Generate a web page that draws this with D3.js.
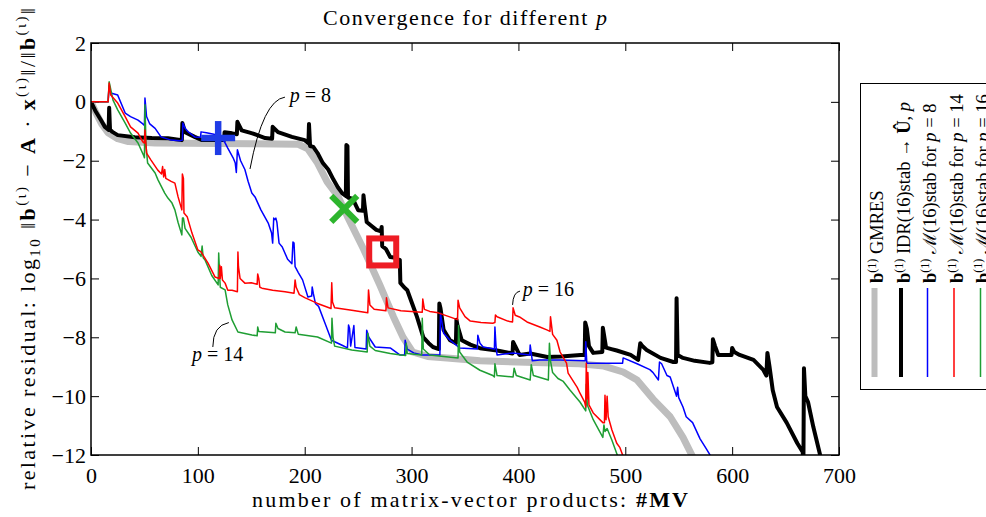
<!DOCTYPE html>
<meta charset="utf-8">
<style>
body { margin: 0; background: #fff; }
svg text { font-family: "Liberation Serif", "DejaVu Serif", serif; fill: #000; }
.axis path { display: none; }
.axis line { stroke: #000; stroke-width: 1; }
.curve { fill: none; stroke-linejoin: round; }
</style>
<svg width="986" height="517"></svg>
<script src="https://d3js.org/d3.v7.min.js"></script>
<script>

// GMRES (grey), IDR(16)stab (black), M(16)stab for p = 8 / 14 / 16
var gmres = [[0,0],[5,-0.4],[10,-0.75],[16,-1.05],[25,-1.25],[35,-1.35],[60,-1.4],[150,-1.42],[194,-1.44],[203,-1.6],[212,-2.08],[221,-2.72],[231,-3.2],[240,-3.9],[255,-5.0],[270,-6.2],[283,-7.3],[292,-8.0],[301,-8.5],[315,-8.65],[333,-8.7],[364,-8.8],[457,-8.9],[480,-8.98],[498,-9.18],[511,-9.45],[526,-10.1],[542,-10.7],[554,-11.4],[565,-12.2]];

var idr = [[0,0],[4,-0.3],[9,-0.6],[13,-0.85],[16.5,-0.95],[17,-0.2],[17.8,-0.95],[20,-1.02],[25,-1.13],[41,-1.2],[57,-1.23],[72,-1.24],[85,-1.3],[85.5,-0.72],[88,-1.03],[97,-1.19],[104,-1.3],[119,-1.3],[124.5,-1.3],[125,-1.03],[132,-1.07],[136.5,-1.1],[137,-0.68],[141,-0.97],[151,-1.07],[163,-1.23],[169.5,-1.25],[170,-0.85],[175,-1.03],[188,-1.19],[200,-1.3],[203.5,-1.4],[204,-0.75],[205,-1.5],[208,-1.53],[212,-1.74],[217,-2.08],[222,-2.3],[227,-2.65],[231,-2.9],[235,-3.1],[238.5,-3.2],[239,-1.47],[240,-1.5],[240.5,-3.25],[245,-3.3],[250,-3.68],[254.5,-3.7],[255,-3.17],[256,-3.5],[258,-4.08],[262,-4.2],[267,-4.35],[271.5,-4.4],[272,-4.25],[272.5,-4.9],[276,-5.0],[280,-5.27],[285,-5.3],[288.5,-5.4],[289,-5.37],[289.5,-6.15],[293,-6.3],[296,-6.4],[300,-6.8],[305,-7.3],[311,-8.0],[316,-8.2],[320,-8.33],[325.5,-8.4],[326,-6.85],[327,-7.0],[330,-7.75],[336,-8.1],[341.5,-8.2],[342,-7.4],[343,-7.6],[347,-8.1],[355,-8.25],[364,-8.37],[380,-8.45],[394.5,-8.55],[395,-8.16],[397,-8.3],[401,-8.6],[411,-8.55],[427,-8.67],[440,-8.65],[458,-8.6],[462,-8.6],[462.5,-7.5],[464,-7.7],[466,-8.3],[470,-8.53],[478.5,-8.5],[479,-7.68],[480,-7.9],[482,-8.35],[487,-8.4],[492,-8.45],[505,-8.6],[512,-8.77],[514,-8.2],[516,-8.3],[520,-8.43],[533,-8.7],[545,-8.84],[547.5,-8.84],[548,-6.67],[549,-8.6],[554,-8.7],[565,-8.8],[579,-8.87],[581.5,-8.85],[582,-8.07],[584,-8.3],[587,-8.6],[599.5,-8.6],[600,-8.36],[602,-8.5],[607,-8.6],[620,-8.77],[629,-9.1],[632,-9.3],[633,-8.53],[635,-9.0],[638,-9.8],[642,-10.37],[651,-10.9],[661,-11.6],[666,-11.9],[666.7,-12.2],[667.2,-9.05],[668.5,-10.0],[671,-10.2],[676,-11.05],[682,-11.95],[684,-12.3]];

var mp8 = [[0,0],[16,0],[17,0.55],[18.5,0.3],[25,0.23],[32,-0.38],[37,-0.5],[44,-0.62],[48.5,-0.75],[50,-0.8],[50.5,0.13],[52,-0.5],[55,-0.75],[60,-0.9],[65.5,-1.19],[75,-1.3],[83,-1.32],[85.5,-1.3],[86,-0.72],[88,-0.9],[91,-1.02],[97,-1.19],[102.5,-1.2],[103,-1.02],[108,-1.05],[115,-1.1],[120,-1.2],[125,-1.36],[128,-1.57],[133,-1.9],[135,-2.08],[136,-2.4],[137,-1.63],[140,-2.0],[144,-2.3],[147,-2.7],[150.5,-3.1],[153.5,-3.23],[159,-3.67],[166,-4.13],[169,-4.46],[170,-4.8],[171,-3.95],[172,-4.0],[173,-3.95],[174,-4.1],[176,-4.8],[179,-4.93],[184,-5.35],[188,-5.5],[189,-4.76],[190,-4.8],[191,-5.6],[194,-5.8],[198,-6.05],[203,-6.63],[206.5,-6.6],[207,-6.29],[208,-6.5],[210,-6.85],[213,-6.95],[219,-7.52],[225,-8.1],[235,-8.27],[240,-8.36],[241,-7.58],[242,-7.7],[243,-8.3],[246,-7.6],[247,-8.35],[257.5,-8.4],[258,-7.76],[260,-8.0],[266,-8.33],[280,-8.36],[289,-8.6],[293.5,-8.6],[294,-8.1],[296,-8.4],[302,-8.53],[310,-8.6],[320,-8.6],[326.5,-8.6],[327,-7.18],[328,-7.4],[330,-7.86],[336,-8.1],[345,-8.36],[361.5,-8.4],[362,-7.93],[364,-8.2],[367,-8.33],[377.5,-8.4],[378,-7.65],[379,-8.3],[380,-8.6],[395,-8.53],[410.5,-8.6],[411,-8.26],[413,-8.8],[420,-8.77],[439,-8.77],[462.5,-8.8],[463,-8.15],[464,-8.88],[485,-8.88],[497.5,-8.88],[498,-8.7],[511,-8.9],[523,-9.1],[526,-9.2],[531,-9.45],[532,-8.84],[534,-8.9],[539,-9.3],[542,-9.35],[548,-10.0],[549,-9.7],[550,-10.05],[554,-10.37],[557,-10.7],[563,-10.9],[570,-11.45],[576,-11.8],[581,-12.1]];

var mp14 = [[0,0],[16,0],[17,0.64],[18.5,0.23],[25,-0.04],[32,-0.5],[37,-0.85],[44,-1.06],[48.5,-1.36],[50,-1.4],[50.5,-0.96],[52,-1.74],[56,-1.97],[62.5,-2.32],[66,-2.45],[67,-2.2],[68,-2.55],[69,-2.3],[70,-2.6],[75,-2.7],[78.5,-2.76],[81.5,-3.23],[85,-3.67],[85.5,-2.45],[86.5,-2.6],[87,-3.78],[90,-3.9],[94.5,-4.46],[100,-5.03],[103,-5.1],[109.5,-5.48],[116,-5.95],[120,-6.0],[120.5,-5.55],[121,-6.0],[122,-5.6],[123,-6.05],[125.5,-6.16],[128,-6.4],[132,-6.4],[137,-6.45],[137.5,-5.1],[138,-5.6],[139.5,-6.0],[144,-6.16],[150,-6.15],[155.5,-6.2],[156,-5.85],[157,-6.0],[158,-6.3],[160,-6.33],[170,-6.4],[181.6,-6.45],[190,-6.5],[191,-6.05],[192,-6.3],[195,-6.55],[200,-6.65],[212,-6.85],[224.6,-7.02],[225.3,-6.15],[226,-6.8],[228,-7.0],[244,-7.08],[259,-7.17],[259.7,-6.39],[261,-6.9],[265,-7.05],[276,-7.1],[276.5,-6.66],[278,-7.0],[290,-7.1],[306,-7.14],[310,-7.15],[310.5,-6.7],[312,-7.05],[317,-7.12],[325,-7.17],[339,-7.35],[343,-7.4],[343.5,-6.74],[345,-7.0],[350,-7.3],[355,-7.45],[365,-7.5],[376,-7.52],[378,-7.5],[378.5,-7.24],[380,-7.3],[390,-7.45],[394.5,-7.48],[395,-7.0],[397,-7.25],[401,-7.31],[408,-7.48],[420,-7.65],[426.6,-7.75],[429.5,-7.8],[430,-7.3],[432,-7.9],[436,-8.1],[439,-8.5],[445,-8.88],[446.5,-9.22],[455,-9.7],[457.6,-9.9],[462,-10.2],[463,-10.37],[463.5,-8.88],[464.3,-10.1],[465,-9.2],[466,-10.3],[470,-10.57],[479,-10.9],[480.5,-10.9],[481,-9.97],[482,-10.8],[483,-10.0],[484,-10.7],[487.5,-11.15],[492,-11.6],[495,-11.75],[498,-12.05]];

var mp16 = [[0,0],[16,0],[17,0.68],[20.6,0.06],[25,-0.27],[32,-0.72],[37,-1.06],[44,-1.4],[49,-1.8],[50,-1.9],[50.5,-0.1],[51.5,-1.5],[53,-2.08],[60,-2.42],[62.7,-2.65],[69,-3.1],[72,-3.27],[75.8,-3.44],[78.5,-3.67],[81.5,-4.1],[84,-4.4],[85,-4.52],[85.6,-3.95],[86.5,-3.95],[88,-4.3],[93.6,-4.6],[100,-5.1],[103,-5.25],[104,-4.9],[105,-5.3],[106.7,-5.37],[113,-5.9],[119,-6.22],[119.5,-5.14],[120.5,-6.0],[121,-6.3],[125.5,-6.39],[128,-6.9],[132,-7.41],[137.5,-7.82],[150.6,-7.92],[155.5,-7.95],[156,-7.65],[157,-7.8],[163,-7.82],[172.5,-7.85],[173,-7.52],[175,-7.7],[181.6,-7.82],[191,-7.85],[192,-7.65],[194,-7.9],[212,-7.99],[225,-8.2],[225.5,-7.35],[226.5,-8.0],[228,-8.3],[244,-8.43],[258.5,-8.5],[259,-7.86],[261,-8.3],[266,-8.45],[280,-8.55],[290,-8.6],[294.5,-8.62],[295,-8.2],[296,-8.55],[309.5,-8.6],[310,-7.35],[311,-8.4],[317,-8.6],[330,-8.65],[343.5,-8.7],[344,-7.6],[345,-8.5],[352,-8.84],[364,-9.12],[376,-9.3],[377.5,-9.35],[378,-8.9],[380,-9.3],[395,-9.35],[396,-9.05],[398,-9.3],[411,-9.45],[412,-8.93],[414,-9.3],[428,-9.45],[429,-8.2],[430,-8.8],[432,-9.2],[437,-9.4],[442,-9.5],[448,-9.78],[457.6,-10.2],[463,-10.5],[463.5,-9.6],[464.5,-10.3],[470,-10.8],[479,-11.4],[480,-10.98],[481,-11.2],[483,-11.1],[487.5,-11.5],[493,-12.05]];

var xTicks = [0, 100, 200, 300, 400, 500, 600, 700];
var yTicks = [2, 0, -2, -4, -6, -8, -10, -12];

// big markers: blue +, green x, red square
var markers = [
  {shape: "plus", x: 119, y: -1.23, color: "#1f3ce6"},
  {shape: "cross", x: 237, y: -3.64, color: "#2db52d"},
  {shape: "square", x: 273, y: -5.1, color: "#ee1c24"}
];

// curved labels: text position, curve start, control and end (data units)
var notes = [
  {p: "8", tx: 186, ty: 0.0, from: [181.5, 0.16], ctrl: [161, 0.06], to: [148.8, -2.28]},
  {p: "16", tx: 404, ty: -6.6, from: [401.5, -6.43], ctrl: [395, -6.47], to: [394.5, -6.9]},
  {p: "14", tx: 94.5, ty: -8.8, from: [114, -8.33], ctrl: [114, -7.6], to: [129, -7.5]}
];

var svg = d3.select("svg");
var mLeft = 91, mRight = 839, mTop = 43, mBottom = 455;

var x = d3.scaleLinear().domain([0, 700]).range([mLeft, mRight]);
var y = d3.scaleLinear().domain([-12, 2]).range([mBottom, mTop]);

svg.append("clipPath").attr("id", "plotclip")
  .append("rect").attr("x", mLeft).attr("y", mTop)
  .attr("width", mRight - mLeft).attr("height", mBottom - mTop);

function richText(sel, parts) {
  parts.forEach(function(p) {
    if (typeof p === "string") p = {t: p};
    var t = sel.append("tspan").text(p.t);
    if (p.b) t.attr("font-weight", "bold");
    if (p.i) t.attr("font-style", "italic");
    if (p.dy) t.attr("dy", p.dy);
    if (p.fs) t.attr("font-size", p.fs);
  });
}

// axes, ticks pointing inward on all four sides
var fmt = d3.format("d");
svg.append("g").attr("class", "axis").attr("transform", "translate(0," + mBottom + ")")
  .call(d3.axisBottom(x).tickValues(xTicks).tickSize(-8).tickPadding(12).tickFormat(fmt));
svg.append("g").attr("class", "axis").attr("transform", "translate(" + mLeft + ",0)")
  .call(d3.axisLeft(y).tickValues(yTicks).tickSize(-8).tickPadding(5).tickFormat(fmt));
svg.append("g").attr("class", "axis").attr("transform", "translate(0," + mTop + ")")
  .call(d3.axisTop(x).tickValues(xTicks).tickSize(-8).tickFormat(""));
svg.append("g").attr("class", "axis").attr("transform", "translate(" + mRight + ",0)")
  .call(d3.axisRight(y).tickValues(yTicks).tickSize(-8).tickFormat(""));
svg.selectAll(".axis").attr("font-family", null).attr("font-size", null);
svg.selectAll(".axis text").style("font-size", "22px");

// curves
var line = d3.line().x(function(d) { return x(d[0]); }).y(function(d) { return y(d[1]); });
var plot = svg.append("g").attr("clip-path", "url(#plotclip)");
var series = [
  {data: gmres, color: "#bdbdbd", width: 7},
  {data: idr, color: "#000", width: 4},
  {data: mp8, color: "#0000ff", width: 1.5},
  {data: mp16, color: "#1f9e33", width: 1.5},
  {data: mp14, color: "#ff0000", width: 1.5}
];
plot.selectAll("path.curve").data(series).enter().append("path")
  .attr("class", "curve")
  .attr("d", function(d) { return line(d.data); })
  .attr("stroke", function(d) { return d.color; })
  .attr("stroke-width", function(d) { return d.width; });

// markers
markers.forEach(function(m) {
  var cx = x(m.x), cy = y(m.y);
  var g = plot.append("g").attr("stroke", m.color).attr("fill", "none");
  if (m.shape === "plus") {
    g.attr("stroke-width", 6.5);
    g.append("line").attr("x1", cx - 17).attr("x2", cx + 17).attr("y1", cy).attr("y2", cy);
    g.append("line").attr("x1", cx).attr("x2", cx).attr("y1", cy - 17).attr("y2", cy + 17);
  } else if (m.shape === "cross") {
    g.attr("stroke-width", 6);
    g.append("line").attr("x1", cx - 13).attr("x2", cx + 13).attr("y1", cy - 13).attr("y2", cy + 13);
    g.append("line").attr("x1", cx - 13).attr("x2", cx + 13).attr("y1", cy + 13).attr("y2", cy - 13);
  } else {
    g.attr("stroke-width", 6);
    g.append("rect").attr("x", cx - 13.5).attr("y", cy - 13.5).attr("width", 27).attr("height", 27);
  }
});

// annotations
notes.forEach(function(n) {
  var path = d3.path();
  path.moveTo(x(n.from[0]), y(n.from[1]));
  path.quadraticCurveTo(x(n.ctrl[0]), y(n.ctrl[1]), x(n.to[0]), y(n.to[1]));
  svg.append("path").attr("d", path.toString()).attr("fill", "none")
    .attr("stroke", "#000").attr("stroke-width", 1);
  var t = svg.append("text").attr("x", x(n.tx)).attr("y", y(n.ty)).style("font-size", "20px");
  richText(t, [{t: "p", i: true}, " = " + n.p]);
});

// frame
svg.append("rect").attr("x", mLeft).attr("y", mTop).attr("width", mRight - mLeft).attr("height", mBottom - mTop)
  .attr("fill", "none").attr("stroke", "#000").attr("stroke-width", 1.5);

// title and axis labels
var title = svg.append("text").attr("x", (mLeft + mRight) / 2).attr("y", 25)
  .attr("text-anchor", "middle").attr("textLength", 284).style("font-size", "22px");
richText(title, ["Convergence for different ", {t: "p", i: true}]);

var xl = svg.append("text").attr("x", 470).attr("y", 507)
  .attr("text-anchor", "middle").attr("textLength", 436).style("font-size", "22px");
richText(xl, ["number of matrix-vector products: ", {t: "#MV", b: true}]);

var yl = svg.append("text").attr("transform", "translate(35," + ((mTop + mBottom) / 2) + ") rotate(-90)")
  .attr("text-anchor", "middle").attr("textLength", 482).style("font-size", "22px");
richText(yl, ["relative residual: log", {t: "10", dy: 5, fs: 15}, {t: " \u2016", dy: -5},
  {t: "b", b: true}, {t: "(\u03b9)", dy: -9, fs: 15}, {t: " \u2212 ", dy: 9}, {t: "A", b: true}, " \u00b7 ",
  {t: "x", b: true}, {t: "(\u03b9)", dy: -9, fs: 15}, {t: "\u2016/\u2016", dy: 9},
  {t: "b", b: true}, {t: "(\u03b9)", dy: -9, fs: 15}, {t: "\u2016", dy: 9}]);

// legend (rotated; handle sits below its text, same column)
var legendNames = [
  ["GMRES"],
  ["IDR(16)stab \u2192 ", {t: "\u00db", b: true}, ", ", {t: "p", i: true}],
  ["\u2133(16)stab for ", {t: "p", i: true}, " = 8"],
  ["\u2133(16)stab for ", {t: "p", i: true}, " = 14"],
  ["\u2133(16)stab for ", {t: "p", i: true}, " = 16"]
];
var legendOrder = [0, 1, 2, 4, 3];
svg.append("rect").attr("x", 860.5).attr("y", 83.5).attr("width", 150).attr("height", 306)
  .attr("fill", "#fff").attr("stroke", "#000").attr("stroke-width", 1);
legendNames.forEach(function(name, i) {
  var bx = 883 + i * 26.5;
  var sd = series[legendOrder[i]];
  svg.append("line").attr("x1", bx - 8.5).attr("x2", bx - 8.5).attr("y1", 288).attr("y2", 377)
    .attr("stroke", sd.color).attr("stroke-width", sd.width === 7 ? 6 : sd.width);
  var t = svg.append("text").attr("transform", "translate(" + bx + ",283) rotate(-90)")
    .style("font-size", "18.5px");
  richText(t, [{t: "b", b: true}, {t: "(1)", dy: -7, fs: 12}, {t: " ", dy: 7}].concat(name));
});

</script>
